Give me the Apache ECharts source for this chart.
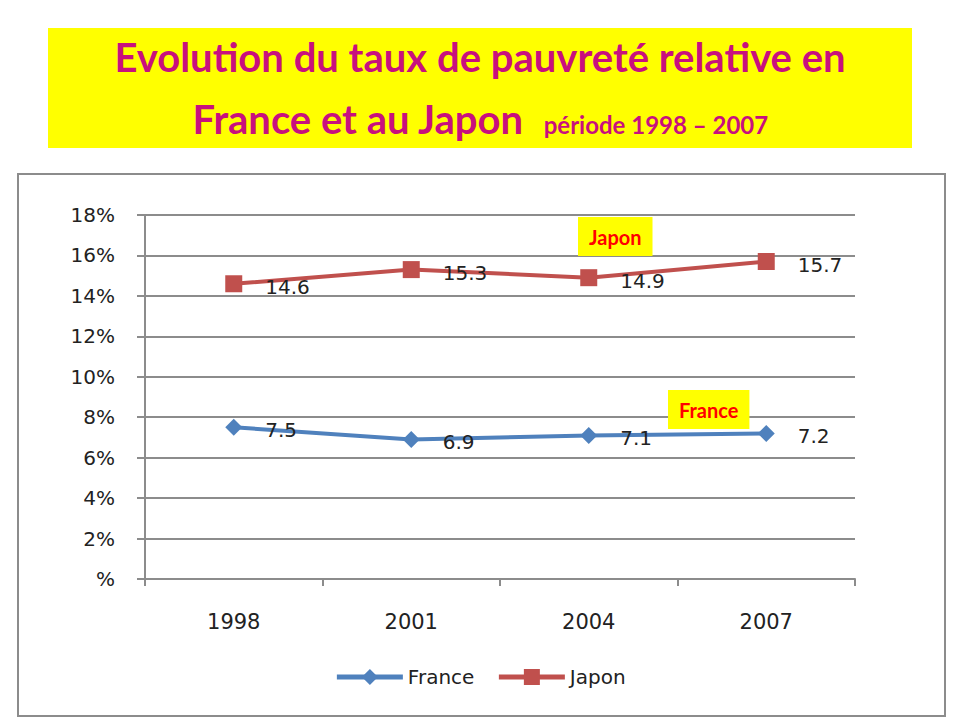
<!DOCTYPE html>
<html>
<head>
<meta charset="utf-8">
<script src="https://cdn.jsdelivr.net/npm/echarts@6/dist/echarts.min.js"></script>
<style>
  html, body { margin: 0; padding: 0; background: #fff; }
  #main { width: 960px; height: 720px; }
</style>
</head>
<body>
<div id="main"></div>
<script>
var years = ['1998', '2001', '2004', '2007'];
var france = [7.5, 6.9, 7.1, 7.2];
var japon = [14.6, 15.3, 14.9, 15.7];
var yTicks = [0, 2, 4, 6, 8, 10, 12, 14, 16, 18];

var myChart = echarts.init(document.getElementById('main'), null, { renderer: 'svg' });

var labelStyle = {
    show: true,
    position: 'right',
    offset: [18, 3],
    fontFamily: 'DejaVu Sans',
    fontSize: 20,
    color: '#222'
};

var option = {
    backgroundColor: '#fff',
    animation: false,
    title: [
        {
            // ligne 1 du titre
            text: 'Evolution du taux de pauvreté relative en',
            left: 'center',
            top: 32,
            textStyle: { fontFamily: 'Lato', fontWeight: 'bold', fontSize: 40, color: '#C8107E' }
        },
        {
            text: '{a|France et au Japon}    {b|période 1998 – 2007}',
            left: 'center',
            top: 94,
            textStyle: {
                rich: {
                    a: { fontFamily: 'Lato', fontWeight: 'bold', fontSize: 40, color: '#C8107E' },
                    b: { fontFamily: 'Lato', fontWeight: 'bold', fontSize: 24, color: '#C8107E', padding: [10, 0, 0, 0] }
                }
            }
        }
    ],
    graphic: [
        // fond jaune du titre
        { type: 'rect', z: -10, shape: { x: 48, y: 28, width: 864, height: 120 }, style: { fill: '#FFFF00' } },
        // cadre du graphique
        { type: 'rect', z: -10, shape: { x: 18, y: 174, width: 927, height: 542 }, style: { fill: '#fff', stroke: '#8c8c8c', lineWidth: 2 } },
        {
            type: 'text', z: 10, left: 578, top: 217,
            style: {
                text: 'Japon', fill: '#FF0000', font: 'bold 20px Lato',
                backgroundColor: '#FFFF00', padding: [10, 11, 9, 11]
            }
        },
        {
            type: 'text', z: 10, left: 668, top: 390,
            style: {
                text: 'France', fill: '#FF0000', font: 'bold 20px Lato',
                backgroundColor: '#FFFF00', padding: [10, 11, 9, 11]
            }
        }
    ],
    grid: {
        left: 145,
        right: 105,
        top: 215,
        bottom: 141
    },
    legend: {
        bottom: 28,
        left: 'center',
        itemWidth: 66,
        itemHeight: 20,
        itemGap: 22,
        lineStyle: { width: 5 },
        textStyle: { fontFamily: 'DejaVu Sans', fontSize: 20, color: '#222' },
        data: ['France', 'Japon']
    },
    xAxis: {
        type: 'category',
        data: years,
        boundaryGap: true,
        axisLine: { lineStyle: { color: '#8c8c8c', width: 2 } },
        axisTick: { show: true, length: 7, lineStyle: { color: '#8c8c8c', width: 2 } },
        axisLabel: { margin: 32, fontFamily: 'DejaVu Sans', fontSize: 21, color: '#222' }
    },
    yAxis: {
        type: 'value',
        min: yTicks[0],
        max: yTicks[yTicks.length - 1],
        interval: 2,
        axisLine: { show: true, lineStyle: { color: '#8c8c8c', width: 2 } },
        axisTick: { show: true, length: 8, lineStyle: { color: '#8c8c8c', width: 2 } },
        splitLine: { lineStyle: { color: '#8c8c8c', width: 2 } },
        axisLabel: {
            margin: 30,
            fontFamily: 'DejaVu Sans',
            fontSize: 20,
            color: '#222',
            formatter: function (v) { return v === 0 ? '%' : v + '%'; }
        }
    },
    series: [
        {
            name: 'France',
            type: 'line',
            data: france,
            symbol: 'diamond',
            symbolSize: 17,
            lineStyle: { width: 4, color: '#4F81BD' },
            itemStyle: { color: '#4F81BD' },
            label: labelStyle
        },
        {
            name: 'Japon',
            type: 'line',
            data: japon,
            symbol: 'rect',
            symbolSize: 17,
            lineStyle: { width: 4, color: '#C0504D' },
            itemStyle: { color: '#C0504D' },
            label: labelStyle
        }
    ]
};

myChart.setOption(option);
window.onresize = myChart.resize;
</script>
</body>
</html>
